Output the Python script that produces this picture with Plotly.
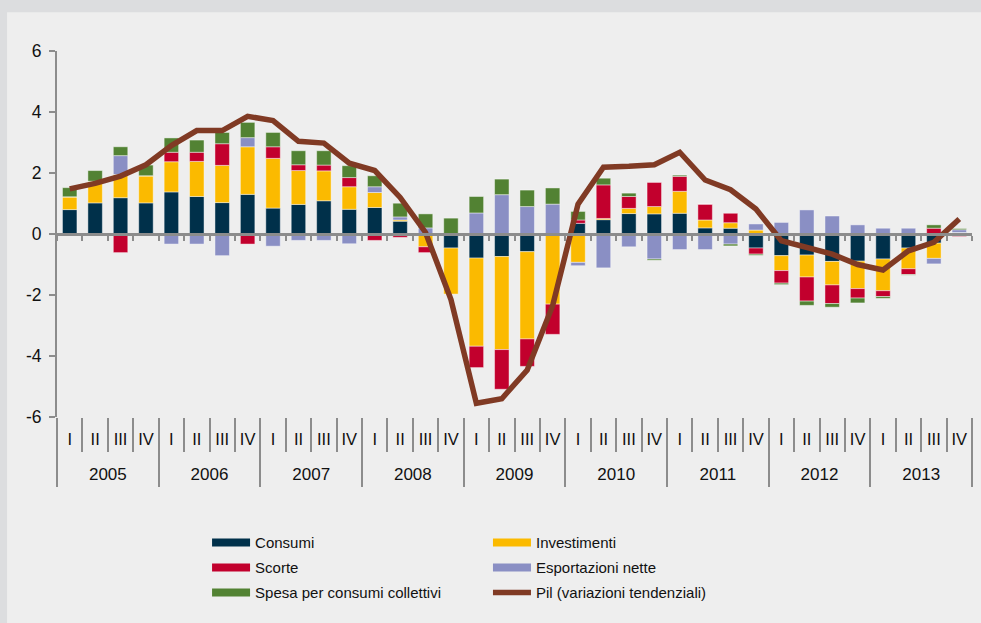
import plotly.graph_objects as go

# Contributi alla crescita del Pil (punti percentuali), dati trimestrali 2005-2013
years = ["2005", "2006", "2007", "2008", "2009", "2010", "2011", "2012", "2013"]
quarters = ["I", "II", "III", "IV"]

consumi = [0.80, 1.02, 1.19, 1.02, 1.38, 1.23, 1.03, 1.30,
           0.85, 0.97, 1.09, 0.81, 0.87, 0.42, 0.00, -0.46,
           -0.79, -0.74, -0.58, -0.03, 0.35, 0.47, 0.67, 0.66,
           0.68, 0.20, 0.19, -0.46, -0.71, -0.69, -0.90, -0.89,
           -0.82, -0.46, -0.30, 0.05]
investimenti = [0.42, 0.71, 0.76, 0.89, 0.99, 1.15, 1.22, 1.56,
                1.63, 1.11, 0.98, 0.74, 0.49, 0.04, -0.42, -1.51,
                -2.89, -3.05, -2.86, -2.27, -0.93, 0.04, 0.17, 0.24,
                0.72, 0.26, 0.18, 0.13, -0.49, -0.72, -0.77, -0.90,
                -1.04, -0.68, -0.50, 0.00]
scorte = [0.00, 0.00, -0.61, 0.00, 0.31, 0.30, 0.71, -0.33,
          0.38, 0.19, 0.19, 0.30, -0.21, -0.11, -0.19, 0.00,
          -0.70, -1.30, -0.90, -0.99, 0.11, 1.10, 0.39, 0.79,
          0.49, 0.52, 0.31, -0.20, -0.41, -0.79, -0.61, -0.31,
          -0.19, -0.19, 0.19, -0.08]
esportazioni = [0.00, 0.00, 0.62, 0.00, -0.33, -0.33, -0.71, 0.30,
                -0.40, -0.21, -0.21, -0.32, 0.19, 0.10, 0.20, 0.00,
                0.69, 1.29, 0.90, 0.98, -0.11, -1.11, -0.42, -0.82,
                -0.51, -0.51, -0.33, 0.20, 0.38, 0.79, 0.59, 0.30,
                0.19, 0.19, -0.18, 0.09]
spesa = [0.30, 0.35, 0.29, 0.35, 0.47, 0.40, 0.37, 0.50,
         0.47, 0.46, 0.47, 0.39, 0.36, 0.45, 0.46, 0.52,
         0.54, 0.51, 0.54, 0.53, 0.28, 0.22, 0.11, -0.04,
         0.04, 0.00, -0.06, -0.04, -0.05, -0.14, -0.12, -0.16,
         -0.06, -0.02, 0.11, 0.04]
pil = [1.48, 1.66, 1.90, 2.27, 2.90, 3.39, 3.39, 3.86,
       3.72, 3.04, 2.98, 2.32, 2.08, 1.20, 0.05, -2.15,
       -5.55, -5.40, -4.46, -2.35, 0.98, 2.19, 2.22, 2.27,
       2.68, 1.77, 1.45, 0.82, -0.22, -0.46, -0.66, -1.00,
       -1.18, -0.55, -0.27, 0.49]

# (name, values, colour, legend column)
series = [
    ("Consumi", consumi, "#00304a", "legend"),
    ("Investimenti", investimenti, "#fbba00", "legend2"),
    ("Scorte", scorte, "#c2002d", "legend"),
    ("Esportazioni nette", esportazioni, "#8a8fc4", "legend2"),
    ("Spesa per consumi collettivi", spesa, "#528233", "legend"),
]
pil_color = "#803a24"
axis_gray = "#8c8c8c"
text_color = "#111111"
font_family = "Liberation Sans, Arial, sans-serif"

quarter_labels = [q for _ in years for q in quarters]
n = len(quarter_labels)
pos = list(range(n))
q_bounds = [i - 0.5 for i in range(n + 1)]
nq = len(quarters)
year_centers = [i * nq + (nq - 1) / 2 for i in range(len(years))]
year_bounds = [i * nq - 0.5 for i in range(len(years) + 1)]
xr = [-0.5, n - 0.5]
y_ticks = [-6, -4, -2, 0, 2, 4, 6]

fig = go.Figure()

for name, vals, color, _ in series:
    fig.add_trace(go.Bar(
        x=pos, y=vals, name=name,
        marker=dict(color=color, line=dict(color="rgba(255,255,255,0.55)", width=0.8)),
        showlegend=False, hoverinfo="y+name",
    ))

# legend entries drawn as wide flat strips, like the original
for name, vals, color, leg in series:
    fig.add_trace(go.Scatter(
        x=[None], y=[None], mode="lines", name=name, xaxis="x2",
        legend=leg, legendgroup=name,
        line=dict(color=color, width=8),
    ))

fig.add_trace(go.Scatter(
    x=pos, y=pil, mode="lines",
    name="Pil (variazioni tendenziali)", legend="legend2", legendgroup="pil",
    line=dict(color=pil_color, width=5.5),
))

# empty traces so the helper axes get drawn
for ax in ["x3", "x4", "x5"]:
    fig.add_trace(go.Scatter(x=[None], y=[None], xaxis=ax, showlegend=False, hoverinfo="skip"))

helper = dict(overlaying="x", anchor="free", range=xr,
              showgrid=False, zeroline=False, showline=False)
legend_style = dict(
    orientation="v", y=-0.2986, yanchor="top", xanchor="left",
    itemwidth=38, traceorder="grouped", tracegroupgap=2.5,
    font=dict(size=15, color=text_color), bgcolor="rgba(0,0,0,0)",
)

fig.update_layout(
    width=981, height=623,
    barmode="relative", bargap=0.43,
    paper_bgcolor="#eeeeee", plot_bgcolor="#eeeeee",
    margin=dict(l=57, r=9, t=51, b=206),
    font=dict(family=font_family, size=16, color=text_color),
    # quarter labels
    xaxis=dict(
        range=xr, tickvals=pos, ticktext=quarter_labels,
        ticks="outside", ticklen=7, tickcolor="rgba(0,0,0,0)",
        showline=False, showgrid=False, zeroline=False,
        tickfont=dict(size=16.5),
    ),
    # quarter separators
    xaxis2=dict(helper, position=0, tickvals=q_bounds[1:-1], ticks="outside",
                ticklen=34, tickcolor=axis_gray, tickwidth=2, showticklabels=False),
    # zero line with small ticks
    xaxis3=dict(helper, position=0.5, tickvals=q_bounds, ticks="outside",
                ticklen=5, tickcolor=axis_gray, tickwidth=2, showticklabels=False,
                showline=True, linecolor=axis_gray, linewidth=3, layer="above traces"),
    # year labels
    xaxis4=dict(helper, position=0, tickvals=year_centers, ticktext=years,
                ticks="outside", ticklen=42, tickcolor="rgba(0,0,0,0)",
                tickfont=dict(size=17)),
    # year separators
    xaxis5=dict(helper, position=0, tickvals=year_bounds, ticks="outside",
                ticklen=69, tickcolor=axis_gray, tickwidth=2, showticklabels=False),
    yaxis=dict(
        range=[-6, 6], tickvals=y_ticks, ticktext=[str(v) for v in y_ticks],
        showline=True, linecolor=axis_gray, linewidth=2,
        ticks="outside", ticklen=6, tickcolor=axis_gray, tickwidth=2,
        ticklabelstandoff=4,
        showgrid=False, zeroline=False, tickfont=dict(size=17.5),
    ),
    legend=dict(legend_style, x=0.164),
    legend2=dict(legend_style, x=0.471),
    shapes=[
        dict(type="rect", xref="paper", yref="paper", x0=-0.2, x1=-0.0546, y0=-1, y1=2,
             fillcolor="#dcdddf", line=dict(width=0), layer="below"),
        dict(type="rect", xref="paper", yref="paper", x0=-0.2, x1=1.2, y0=1.1057, y1=2,
             fillcolor="#dcdddf", line=dict(width=0), layer="below"),
    ],
)

fig.write_html("out.html", config={"displayModeBar": False},
               post_script="document.body.style.margin='0';")
